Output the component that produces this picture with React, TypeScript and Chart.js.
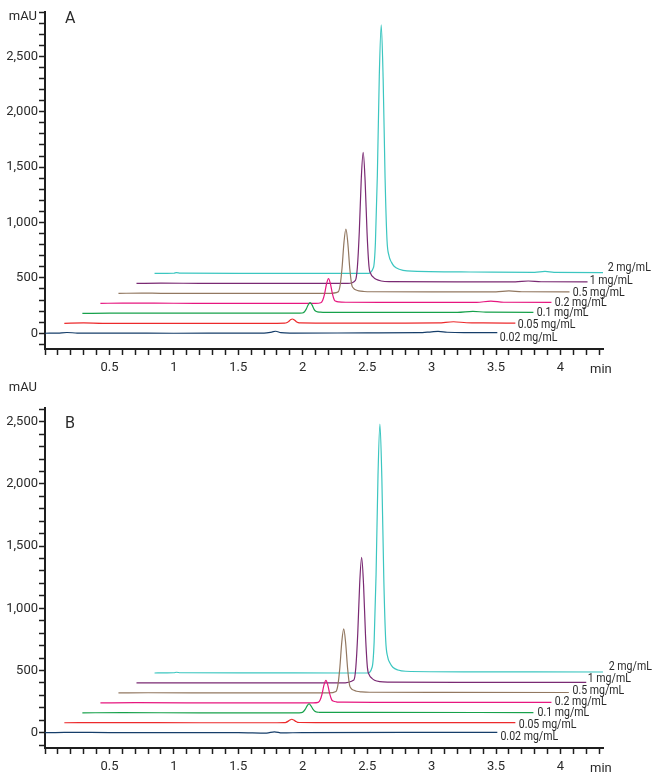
import React, { useEffect, useRef } from 'react';
import { Chart, registerables } from 'chart.js';
Chart.register(...registerables);

// ---------- data ----------
const seriesNames = ['0.02 mg/mL', '0.05 mg/mL', '0.1 mg/mL', '0.2 mg/mL', '0.5 mg/mL', '1 mg/mL', '2 mg/mL'];
const seriesColors = ['#163e6a', '#ec2a2c', '#17a14b', '#e6177f', '#927861', '#7a2a73', '#3cc6c0'];

const xMajorTicks = [0.5, 1, 1.5, 2, 2.5, 3, 3.5, 4];
const yMajorTicks = [0, 500, 1000, 1500, 2000, 2500];

// Panel A traces: [time (min), signal (mAU)]
const a002 = [[0, 0], [0.1, 2], [0.17, 7], [0.25, 2], [0.6, 1], [1.0, 0], [1.5, 1], [1.7, 2], [1.76, 11], [1.79, 18], [1.83, 6], [1.9, 2], [2.5, 3], [2.9, 5], [3.0, 13], [3.05, 17], [3.12, 9], [3.25, 5], [3.51, 5]];
const a005 = [[0.15, 90], [0.3, 93], [0.45, 90], [1.2, 90], [1.8, 90], [1.86, 91], [1.875, 95], [1.89, 105], [1.905, 121], [1.92, 129], [1.935, 120], [1.95, 105], [1.965, 96], [1.98, 93], [2.1, 92], [2.8, 92], [3.05, 93], [3.17, 104], [3.27, 95], [3.4, 93], [3.65, 92]];
const a01 = [[0.29, 180], [0.5, 181], [1.0, 182], [1.5, 181], [1.95, 181], [1.997, 183], [2.012, 192], [2.027, 218], [2.042, 256], [2.057, 276], [2.072, 256], [2.087, 218], [2.102, 198], [2.117, 193], [2.137, 190], [2.157, 189], [2.4, 189], [3.2, 189], [3.32, 198], [3.42, 190], [3.79, 189]];
const a02 = [[0.43, 270], [0.6, 272], [1.0, 271], [1.6, 270], [2.1, 270], [2.14, 275], [2.155, 298], [2.17, 358], [2.185, 447], [2.2, 493], [2.215, 446], [2.23, 357], [2.245, 300], [2.26, 288], [2.28, 283], [2.3, 281], [2.34, 280], [2.6, 279], [3.35, 279], [3.46, 290], [3.56, 280], [3.93, 279]];
const a05 = [[0.57, 360], [0.75, 363], [0.9, 361], [1.5, 360], [2.2, 360], [2.275, 374], [2.29, 432], [2.305, 589], [2.32, 821], [2.335, 941], [2.35, 813], [2.365, 585], [2.38, 440], [2.395, 405], [2.415, 390], [2.435, 382], [2.475, 377], [2.535, 375], [3.0, 374], [3.5, 374], [3.6, 382], [3.7, 375], [4.07, 374]];
const a1 = [[0.71, 450], [0.9, 452], [1.2, 451], [2.0, 450], [2.35, 450], [2.409, 478], [2.424, 597], [2.439, 918], [2.454, 1389], [2.469, 1634], [2.484, 1378], [2.499, 910], [2.514, 605], [2.529, 535], [2.549, 505], [2.569, 487], [2.609, 472], [2.669, 466], [3.2, 464], [3.65, 464], [3.75, 472], [3.85, 465], [4.21, 464]];
const a2 = [[0.85, 540], [1.0, 542], [1.02, 548], [1.05, 542], [1.5, 541], [2.0, 540], [2.5, 540], [2.549, 594], [2.564, 818], [2.579, 1426], [2.594, 2319], [2.609, 2783], [2.624, 2295], [2.639, 1400], [2.654, 840], [2.669, 700], [2.689, 640], [2.709, 605], [2.749, 578], [2.809, 563], [3.3, 553], [3.8, 550], [3.88, 558], [3.95, 550], [4.33, 548]];

// Panel B traces
const b002 = [[0, 0], [0.15, 3], [0.5, 1], [1.0, 0], [1.5, 1], [1.72, -3], [1.78, 7], [1.84, -2], [2.0, 1], [2.8, 2], [3.51, 2]];
const b005 = [[0.15, 80], [0.5, 81], [1.2, 80], [1.8, 80], [1.855, 81], [1.87, 83], [1.885, 91], [1.9, 102], [1.915, 108], [1.93, 102], [1.945, 91], [1.96, 83], [1.975, 82], [2.1, 81], [3.0, 81], [3.65, 81]];
const b01 = [[0.29, 160], [0.6, 161], [1.2, 160], [1.95, 160], [1.989, 162], [2.004, 169], [2.019, 188], [2.034, 216], [2.049, 231], [2.064, 216], [2.079, 189], [2.094, 172], [2.109, 166], [2.129, 164], [2.149, 163], [2.5, 163], [3.79, 162]];
const b02 = [[0.43, 240], [0.7, 241], [1.5, 240], [2.08, 240], [2.12, 244], [2.135, 262], [2.15, 311], [2.165, 384], [2.18, 421], [2.195, 381], [2.21, 310], [2.225, 264], [2.24, 253], [2.26, 248], [2.28, 246], [2.32, 245], [2.6, 244], [3.93, 243]];
const b05 = [[0.57, 320], [0.8, 321], [1.5, 320], [2.2, 320], [2.258, 332], [2.273, 384], [2.288, 523], [2.303, 728], [2.318, 834], [2.333, 721], [2.348, 518], [2.363, 385], [2.378, 353], [2.398, 341], [2.418, 333], [2.458, 328], [2.518, 325], [3.0, 324], [4.065, 323]];
const b1 = [[0.71, 400], [1.0, 401], [1.6, 400], [2.3, 400], [2.397, 424], [2.412, 525], [2.427, 799], [2.442, 1201], [2.457, 1410], [2.472, 1188], [2.487, 786], [2.502, 523], [2.517, 463], [2.537, 437], [2.557, 422], [2.597, 410], [2.657, 406], [3.2, 405], [4.2, 404]];
const b2 = [[0.85, 480], [1.0, 482], [1.02, 486], [1.05, 482], [1.6, 481], [2.3, 480], [2.5, 480], [2.539, 528], [2.554, 728], [2.569, 1270], [2.584, 2067], [2.599, 2481], [2.614, 2041], [2.629, 1240], [2.644, 740], [2.659, 610], [2.679, 556], [2.699, 526], [2.739, 504], [2.799, 494], [3.3, 489], [4.33, 488]];

// ---------- panel layout ----------
const panels = [
  {
    letter: 'A', traces: [a002, a005, a01, a02, a05, a1, a2],
    yMin: -142, yMax: 2900, top: 0, height: 380, padTop: 12, xAxisH: 31,
    labelT: [3.529, 3.669, 3.816, 3.956, 4.096, 4.227, 4.367],
    labelY: [-41, 72, 183, 274, 364, 475, 587],
    mauY: 17, letterY: 19, minY: 370,
  },
  {
    letter: 'B', traces: [b002, b005, b01, b02, b05, b1, b2],
    yMin: -123, yMax: 2610, top: 380, height: 401, padTop: 28, xAxisH: 33,
    labelT: [3.534, 3.676, 3.822, 3.956, 4.093, 4.212, 4.375],
    labelY: [-33, 58, 162, 248, 337, 434, 527],
    mauY: 8, letterY: 44, minY: 389,
  },
];

const FONT = 'Roboto, "Noto Sans", sans-serif';
const INK = '#2a2a2a';
const AXIS = '#1e1e1e';

function Panel({ p }: { p: any }) {
  const ref = useRef<HTMLCanvasElement>(null);
  useEffect(() => {
    const textPlugin = {
      id: 'panelText',
      afterDatasetsDraw(chart: any) {
        const ctx = chart.ctx;
        const xs = chart.scales.x;
        const ys = chart.scales.y;
        ctx.save();
        ctx.fillStyle = INK;
        ctx.textBaseline = 'middle';
        ctx.textAlign = 'left';
        ctx.font = `12px ${FONT}`;
        p.labelT.forEach((t: number, i: number) => {
          ctx.save();
          ctx.translate(xs.getPixelForValue(t), ys.getPixelForValue(p.labelY[i]));
          ctx.scale(0.88, 1);
          ctx.fillText(seriesNames[i], 0, 0);
          ctx.restore();
        });
        ctx.font = `13px ${FONT}`;
        ctx.textAlign = 'right';
        ctx.fillText('mAU', 37, p.mauY);
        ctx.textAlign = 'left';
        ctx.fillText('min', 590, p.minY);
        ctx.font = `16px ${FONT}`;
        ctx.fillText(p.letter, 65, p.letterY);
        ctx.restore();
      },
    };
    const chart = new Chart(ref.current!, {
      type: 'line',
      data: {
        datasets: p.traces.map((tr: number[][], i: number) => ({
          label: seriesNames[i],
          data: tr.map(([x, y]) => ({ x, y })),
          borderColor: seriesColors[i],
          backgroundColor: seriesColors[i],
          borderWidth: 1.2,
          pointRadius: 0,
          fill: false,
          cubicInterpolationMode: 'monotone',
        })),
      },
      options: {
        animation: false,
        responsive: false,
        events: [],
        layout: { padding: { top: p.padTop, right: 51, left: 0, bottom: 0 } },
        plugins: { legend: { display: false }, tooltip: { enabled: false }, title: { display: false } },
        scales: {
          x: {
            type: 'linear', min: 0, max: 4.33,
            afterFit: (s: any) => { s.height = p.xAxisH; },
            border: { display: true, color: AXIS, width: 2 },
            grid: { display: true, drawOnChartArea: false, drawTicks: true, tickLength: 6, tickWidth: 1.5, tickColor: AXIS },
            ticks: {
              stepSize: 0.1, autoSkip: false, maxRotation: 0, includeBounds: false, padding: 5,
              color: INK, font: { family: FONT, size: 13 },
              callback: (v: any) => {
                const m = xMajorTicks.find((t) => Math.abs(t - Number(v)) < 1e-6);
                return m === undefined ? '' : String(m);
              },
            },
          },
          y: {
            type: 'linear', min: p.yMin, max: p.yMax,
            afterFit: (s: any) => { s.width = 45; },
            border: { display: true, color: AXIS, width: 2 },
            grid: { display: true, drawOnChartArea: false, drawTicks: true, tickLength: 6, tickWidth: 1.5, tickColor: AXIS },
            ticks: {
              stepSize: 100, autoSkip: false, includeBounds: false, padding: 1,
              color: INK, font: { family: FONT, size: 13 },
              callback: (v: any) => {
                const m = yMajorTicks.find((t) => Math.abs(t - Number(v)) < 1e-6);
                return m === undefined ? '' : m.toLocaleString('en-US');
              },
            },
          },
        },
      },
      plugins: [textPlugin],
    } as any);
    return () => chart.destroy();
  }, []);
  return (
    <canvas
      ref={ref}
      width={654}
      height={p.height}
      style={{ position: 'absolute', left: 0, top: p.top, width: 654, height: p.height, display: 'block' }}
    />
  );
}

export default function App() {
  return (
    <div style={{ position: 'absolute', left: 0, top: 0, width: 654, height: 781, background: '#fff' }}>
      {panels.map((p) => (
        <Panel key={p.letter} p={p} />
      ))}
    </div>
  );
}
